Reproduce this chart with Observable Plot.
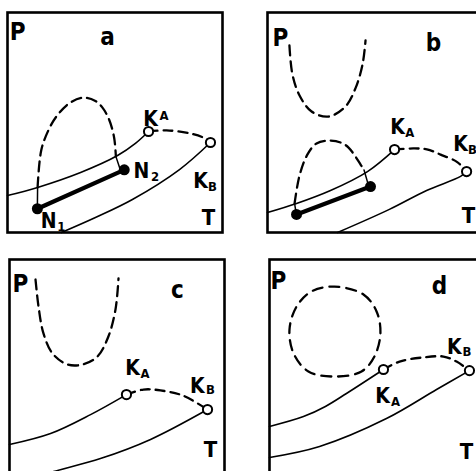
<!DOCTYPE html>
<html>
<head>
<meta charset="utf-8">
<script src="https://cdn.jsdelivr.net/npm/d3@7"></script>
<script src="https://cdn.jsdelivr.net/npm/@observablehq/plot@0.6"></script>
<style>
  html, body { margin: 0; padding: 0; background: #fff; overflow: hidden; }
  #fig { position: relative; width: 476px; height: 471px; overflow: hidden; background: #fff; }
  #fig svg { position: absolute; background: transparent; }
</style>
</head>
<body>
<div id="fig"></div>
<script>
// ---- Panel a ----
const aUpper = [[0,16.8],[14.0,20.5],[34.0,27.3],[51.2,35.0],[59.5,40.5],[65.6,45.9]];
const aLower = [[25.1,0],[40.9,6.8],[58.1,15.0],[80.0,28.6],[94.4,40.9]];
const aCritDash = [[65.6,45.9],[74.0,46.4],[85.1,45.0],[92.1,42.7],[94.4,40.9]];
const aArch = [[14.0,20.5],[15.7,37.4],[18.9,46.2],[22.8,52.8],[29.1,59.0],[35.4,61.3],[40.9,59.8],[44.0,57.0],[47.2,51.5],[49.6,43.1],[50.4,34.6]];
const aTies = [[[14.0,20.5],[13.9,12.0]], [[50.4,34.6],[52.2,29.3]]];
const aNodes = [[13.9,10.8],[54.3,28.5]];
const aCrit = [[65.6,45.9],[94.4,40.9]];
const aLabels = [
  {t:"P",x:4.7,y:90.9,s:24},{t:"a",x:46.5,y:88.6,s:24},
  {t:"K",x:66.5,y:51.4,s:21},{t:"A",x:72.8,y:53.0,s:13},
  {t:"N",x:62.3,y:27.7,s:21},{t:"2",x:68.6,y:25.4,s:13},
  {t:"N",x:19.1,y:5.0,s:21},{t:"1",x:25.0,y:2.6,s:13},
  {t:"K",x:89.8,y:23.2,s:21},{t:"B",x:95.3,y:20.9,s:13},
  {t:"T",x:93.5,y:6.4,s:22}
];

// ---- Panel b ----
const bUpper = [[0,9.1],[13.5,13.2],[29.3,19.1],[46.5,27.7],[59.1,37.7]];
const bLower = [[32.6,0],[56.7,10.5],[74.0,19.1],[89.8,25.5],[92.6,27.7]];
const bCritDash = [[59.1,37.7],[67.8,38.2],[74.1,37.8],[80.5,35.4],[88.4,31.9],[92.6,27.7]];
const bU = [[10.2,85.0],[11.6,71.8],[14.9,62.3],[20.5,55.0],[28.4,52.7],[36.3,57.3],[40.9,65.5],[44.2,76.4],[45.6,87.3]];
const bArch = [[12.6,13.2],[14.9,25.9],[18.6,35.5],[22.8,40.5],[28.4,41.8],[34.0,40.9],[37.7,38.6],[43.3,30.9],[44.9,28.4]];
const bTies = [[[12.6,13.2],[13.2,9.5]], [[44.9,28.4],[46.8,22.0]]];
const bNodes = [[13.5,8.2],[47.9,20.9]];
const bCrit = [[59.1,37.7],[92.6,27.7]];
const bLabels = [
  {t:"P",x:6.0,y:88.2,s:24},{t:"b",x:77.2,y:85.9,s:24},
  {t:"K",x:60.5,y:47.7,s:21},{t:"A",x:66.2,y:45.5,s:13},
  {t:"K",x:89.8,y:40.0,s:21},{t:"B",x:95.3,y:37.7,s:13},
  {t:"T",x:93.5,y:7.7,s:22}
];

// ---- Panel c ----
const cUpper = [[0,15.9],[19.1,20.9],[37.7,29.5],[54.4,38.6]];
const cLower = [[16.7,2.3],[20.5,3.6],[42.3,9.5],[65.6,18.2],[92.1,31.8]];
const cCritDash = [[54.4,38.6],[62.3,40.9],[70.2,40.5],[80.5,38.2],[92.1,31.8]];
const cU = [[12.1,90.9],[13.5,78.6],[15.8,66.4],[20.0,57.3],[27.0,52.3],[34.0,52.3],[40.9,55.9],[46.0,65.0],[49.3,77.3],[50.7,91.4]];
const cCrit = [[54.4,38.6],[92.1,31.8]];
const cLabels = [
  {t:"P",x:5.1,y:88.6,s:24},{t:"c",x:78.1,y:85.9,s:24},
  {t:"K",x:57.2,y:50.5,s:21},{t:"A",x:63.0,y:48.2,s:13},
  {t:"K",x:87.4,y:42.3,s:21},{t:"B",x:93.5,y:40.9,s:13},
  {t:"T",x:93.5,y:13.6,s:22}
];

// ---- Panel d ----
const dUpper = [[0,24.1],[15.8,28.6],[26.0,33.2],[35.8,39.1],[53.0,50.0]];
const dLower = [[0,10.0],[23.3,15.0],[54.4,27.7],[77.7,40.9],[93.0,49.5]];
const dCritDash = [[53.0,50.0],[60.5,53.6],[71.6,55.5],[80.9,55.9],[87.0,53.6],[93.0,49.5]];
const dLoop = [[30.2,87.7],[43.7,84.1],[49.8,76.4],[51.6,66.4],[48.8,55.9],[42.8,49.1],[29.8,46.8],[18.1,49.1],[11.2,57.3],[9.3,68.2],[12.6,78.6],[19.5,85.5]];
const dCrit = [[53.0,50.0],[93.0,49.5]];
const dLabels = [
  {t:"P",x:4.2,y:90.0,s:24},{t:"d",x:79.1,y:87.7,s:24},
  {t:"K",x:52.6,y:37.7,s:21},{t:"A",x:58.6,y:35.5,s:13},
  {t:"K",x:86.0,y:60.0,s:21},{t:"B",x:91.8,y:58.2,s:13},
  {t:"T",x:91.6,y:12.7,s:22}
];

// Panel placement in the figure (left, top) — layout only
const panelW = 215, panelH = 220, pad = 2;
const panels = [
  {left: 7,   top: 12,  upper: aUpper, lower: aLower, crit: aCrit, critDash: aCritDash, dashed: [aArch], ties: aTies, nodes: aNodes, labels: aLabels},
  {left: 267, top: 12,  upper: bUpper, lower: bLower, crit: bCrit, critDash: bCritDash, dashed: [bU, bArch], ties: bTies, nodes: bNodes, labels: bLabels},
  {left: 9,   top: 259, upper: cUpper, lower: cLower, crit: cCrit, critDash: cCritDash, dashed: [cU], ties: [], nodes: [], labels: cLabels},
  {left: 269, top: 259, upper: dUpper, lower: dLower, crit: dCrit, critDash: dCritDash, dashed: [], loop: dLoop, ties: [], nodes: [], labels: dLabels}
];

const font = "'DejaVu Sans Condensed', 'DejaVu Sans', sans-serif";
const fig = document.getElementById("fig");

for (const p of panels) {
  const marks = [
    Plot.frame({stroke: "#000", strokeWidth: 2.6}),
    Plot.line(p.upper, {x: d => d[0], y: d => d[1], curve: "catmull-rom", stroke: "#000", strokeWidth: 1.6}),
    Plot.line(p.lower, {x: d => d[0], y: d => d[1], curve: "catmull-rom", stroke: "#000", strokeWidth: 1.6}),
    Plot.line(p.critDash, {x: d => d[0], y: d => d[1], curve: "catmull-rom", stroke: "#000", strokeWidth: 2.3, strokeDasharray: "9,6"}),
    ...p.dashed.map(arr => Plot.line(arr, {x: d => d[0], y: d => d[1], curve: "catmull-rom", stroke: "#000", strokeWidth: 2.3, strokeDasharray: "10,6"})),
    ...(p.loop ? [Plot.line(p.loop, {x: d => d[0], y: d => d[1], curve: "catmull-rom-closed", stroke: "#000", strokeWidth: 2.3, strokeDasharray: "10,7"})] : []),
    ...p.ties.map(arr => Plot.line(arr, {x: d => d[0], y: d => d[1], stroke: "#000", strokeWidth: 1.5})),
    ...(p.nodes.length ? [
      Plot.line(p.nodes, {x: d => d[0], y: d => d[1], stroke: "#000", strokeWidth: 4.2}),
      Plot.dot(p.nodes, {x: d => d[0], y: d => d[1], r: 5.5, fill: "#000", stroke: "none"})
    ] : []),
    Plot.dot(p.crit, {x: d => d[0], y: d => d[1], r: 4.6, fill: "#fff", stroke: "#000", strokeWidth: 2}),
    Plot.text(p.labels, {x: "x", y: "y", text: "t", fontSize: "s", fontWeight: "bold", fontFamily: font, fill: "#000", textAnchor: "middle", lineAnchor: "middle"})
  ];
  const svg = Plot.plot({
    width: panelW + 2 * pad,
    height: panelH + 2 * pad,
    margin: pad,
    x: {domain: [0, 100], axis: null},
    y: {domain: [0, 100], axis: null},
    style: {background: "transparent", overflow: "visible"},
    marks
  });
  svg.style.left = (p.left - pad) + "px";
  svg.style.top = (p.top - pad) + "px";
  fig.appendChild(svg);
}
</script>
</body>
</html>
